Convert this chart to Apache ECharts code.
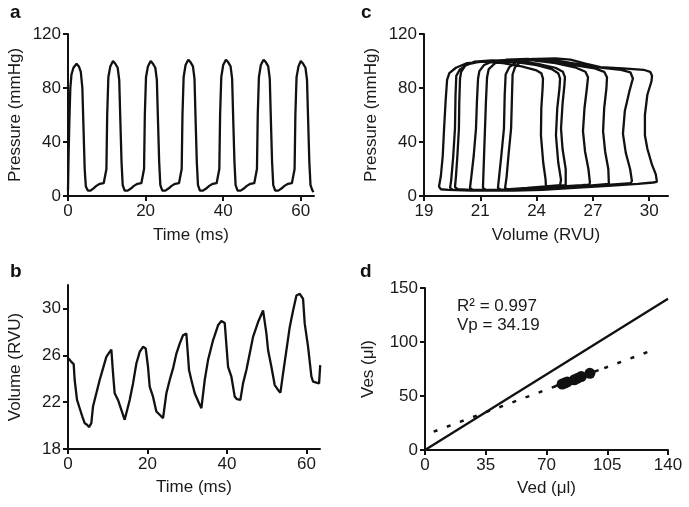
<!DOCTYPE html>
<html>
<head>
<meta charset="utf-8">
<script src="https://cdn.jsdelivr.net/npm/echarts@6/dist/echarts.min.js"></script>
<style>html,body{margin:0;padding:0;background:#fff}#c{width:689px;height:507px}</style>
</head>
<body>
<div id="c"></div>
<script>
// ---- Panel a: pressure vs time ----
const timeA = [0,0.15,0.35,0.6,0.9,1.4,2.2,2.8,3.3,3.7,4.0,4.3,4.6,5.1,5.8,6.5,7.3,8.2,9.2,9.6,
  9.9,10.1,10.4,10.9,11.6,12.2,12.8,13.2,13.5,13.8,14.1,14.6,15.4,16.2,17.0,17.9,18.9,19.4,
  19.6,19.8,20.1,20.6,21.3,21.9,22.5,22.9,23.2,23.5,23.8,24.3,25.1,25.9,26.7,27.6,28.6,29.1,
  29.3,29.5,29.8,30.3,31.0,31.6,32.2,32.6,32.9,33.2,33.5,34.0,34.8,35.6,36.4,37.3,38.3,38.8,
  39.0,39.2,39.5,40.0,40.7,41.3,41.9,42.3,42.6,42.9,43.2,43.7,44.5,45.3,46.1,47.0,48.0,48.5,
  48.7,48.9,49.2,49.7,50.4,51.0,51.6,52.0,52.3,52.6,52.9,53.4,54.2,55.0,55.8,56.7,57.7,58.2,
  58.4,58.6,58.9,59.4,60.0,60.6,61.2,61.6,61.9,62.2,62.5,63.0,63.3];
const pressureA = [4,30,55,80,90,95,98,96,92,80,50,20,7,4,4,5.5,7.5,9,9.5,10,
  20,60,88,96,100,98,95,86,55,25,8,4,4,5.5,7.5,9,9.5,10,
  20,60,88,96,100,98,95,86,55,25,8,4,4,5.5,7.5,9,9.5,10,
  20,60,88,97,101,99,96,87,55,25,8,4,4,5.5,7.5,9,9.5,10,
  20,60,88,97,101,99,96,87,55,25,8,4,4,5.5,7.5,9,9.5,10,
  20,60,88,97,101,99,96,87,55,25,8,4,4,5.5,7.5,9,9.5,10,
  20,60,88,96,100,98,95,86,55,25,8,4,3];
const xTicksA = [0,20,40,60];
const yTicksA = [0,40,80,120];

// ---- Panel b: volume vs time ----
const timeB = [0.17,0.84,1.43,1.68,2.27,2.94,3.61,4.19,4.78,5.29,5.87,6.29,7.13,7.97,8.81,9.65,10.49,10.91,
  11.33,11.74,12.58,13.42,14.26,14.68,15.52,16.36,17.20,18.04,18.88,19.55,20.13,20.55,21.39,22.23,23.07,23.91,
  24.75,25.59,26.43,27.27,28.10,28.94,29.78,30.45,31.04,31.88,32.97,33.56,34.40,35.23,36.49,37.75,38.59,39.43,
  40.27,41.11,41.95,42.53,43.37,44.04,44.88,45.72,46.56,47.82,49.08,49.50,49.92,50.34,51.17,52.01,52.85,53.44,
  54.11,54.95,55.79,56.63,57.47,58.31,59.14,59.56,60.40,61.24,61.66,62.50,63.17,63.45];
const volumeB = [25.73,25.44,25.25,23.89,22.19,21.48,20.77,20.21,20.07,19.87,20.21,21.62,22.76,23.89,24.88,25.87,26.29,26.49,
  24.45,22.76,22.19,21.34,20.49,20.35,22.19,23.60,25.30,26.29,26.72,26.58,25.02,23.32,22.47,21.20,20.92,20.63,
  22.76,23.89,24.88,26.15,27.00,27.71,27.85,24.74,23.89,22.76,21.91,21.48,23.89,25.59,27.28,28.56,28.93,28.76,
  25.02,24.17,22.47,22.25,22.19,23.60,24.74,26.15,27.57,28.84,29.83,29.97,27.85,26.43,25.02,23.46,23.04,22.81,
  24.45,26.43,28.42,29.83,31.11,31.25,30.82,28.70,26.72,24.17,23.75,23.66,23.60,25.16];
const xTicksB = [0,20,40,60];
const yTicksB = [18,22,26,30];

// ---- Panel c: pressure-volume loops ----
const loopVolume = [
  24.50,24.48,24.35,24.23,24.25,24.32,24.34,24.25,24.0,23.2,22.2,21.2,20.3,19.7,19.35,19.23,19.15,19.07,19.0,18.9,18.8,18.9,19.3,
  20.5,22.0,23.5,24.8,25.25,
  25.30,25.15,25.03,25.10,25.22,25.25,25.15,24.8,24.0,23.0,22.0,21.0,20.3,19.9,19.72,19.68,19.65,19.55,19.45,19.39,19.55,20.3,
  21.8,23.3,24.8,25.55,
  25.62,25.55,25.38,25.30,25.38,25.48,25.51,25.4,25.0,24.0,22.8,21.6,20.7,20.2,19.98,19.92,19.88,19.86,19.78,19.7,19.65,19.8,20.5,
  22.0,23.6,25.2,26.4,26.8,
  26.84,26.76,26.58,26.47,26.55,26.68,26.74,26.6,26.1,25.0,23.8,22.6,21.7,21.2,20.95,20.88,20.82,20.77,20.65,20.52,20.45,20.6,21.3,
  22.8,24.5,26.2,27.4,27.85,
  27.91,27.82,27.65,27.54,27.6,27.72,27.75,27.6,27.1,26.0,24.8,23.5,22.4,21.8,21.45,21.36,21.3,21.25,21.2,21.16,21.14,21.3,22.0,
  23.5,25.3,27.0,28.5,29.0,
  29.08,28.98,28.75,28.60,28.7,28.95,29.13,29.0,28.5,27.5,26.3,25.0,23.8,23.0,22.55,22.35,22.3,22.26,22.12,22.0,21.94,22.1,22.8,
  24.3,26.0,27.8,29.4,30.2,30.41,
  30.35,30.15,29.9,29.77,29.77,29.9,30.12,30.15,30.05,29.7,28.6,27.4,26.6,25.8,25.0,24.0,23.2,22.85,22.72,22.69,22.64,22.5,22.4,22.32,22.5,23.2,24.0];
const loopPressure = [
  5,12,25,45,65,80,87,91,93,96,98.5,99.5,98.5,95,91,86,70,50,30,15,7,5,4.5,
  4,4.5,6,7.5,8,
  12,25,45,65,80,87,91,94,97,99,100,99.5,97.5,93.5,89,75,50,28,12,6,4.5,4,
  4,5.5,7,8,
  9,20,35,50,68,82,88,92,95,98,100,100.5,99.5,96.5,92,87,70,50,30,14,6.5,5,4.5,
  4.5,5.5,7,8,8.5,
  10,20,33,48,65,80,88,92,95,98.5,100.5,101,100,97,92.5,87,70,50,30,14,6,4.5,4,
  4.5,5.5,7,8.5,9,
  10,20,33,48,65,80,88,92,94.5,97,100,101.5,101,98.5,94,88,70,50,30,14,6,4.5,4,
  4.5,6,7.5,9,9.5,
  11,20,32,46,63,78,87,91.5,93.5,95,97.5,100.5,101.5,100,95.5,90,75,50,30,14,6,4.5,4,
  4.5,6,7.5,9,10,10.5,
  16,23,35,45,60,75,85,89,92,93.5,94.5,95.5,98,101,102,101.5,100,95.5,90,75,50,30,14,6,4.5,4,4.5];
const xTicksC = [18,21,24,27,30];
const xLabelsC = ['19','21','24','27','30'];
const yTicksC = [0,40,80,120];

// ---- Panel d: Ves vs Ved ----
const vedPoints = [79,80.5,82,86,88,90,95];
const vesPoints = [61,62,63,65,66.5,68,71];
const identityX = [0,140];
const identityY = [0,140];
const fitX = [5,132];
const fitY = [17,93];
const fitSolidX = [75,100];
const fitSolidY = [59,74];
const xTicksD = [0,35,70,105,140];
const yTicksD = [0,50,100,150];
const annotD = ['R\u00b2 = 0.997','Vp = 34.19'];

const INK = '#111';
const FONT = '"Liberation Sans", Arial, sans-serif';
function pairs(xs, ys){ return xs.map((x,i)=>[x, ys[i]]); }
function axis(idx, opt){
  return Object.assign({
    type:'value', gridIndex:idx, splitLine:{show:false},
    axisLine:{show:true, onZero:false, lineStyle:{color:INK, width:2}},
    nameLocation:'middle',
    nameTextStyle:{color:'#1a1a1a', fontSize:17, fontFamily:FONT},
  }, opt);
}
function lbl(vals, extra){
  return Object.assign({color:'#1a1a1a', fontSize:17, fontFamily:FONT, margin:7, customValues:vals}, extra||{});
}
function tk(vals){ return {show:true, length:5, lineStyle:{color:INK, width:2}, customValues:vals}; }
const LW = 2.3;

const chart = echarts.init(document.getElementById('c'), null, {renderer:'canvas'});
chart.setOption({
  animation:false,
  backgroundColor:'#fff',
  grid:[
    {left:68, top:34, width:246, height:162},
    {left:68, top:285, width:252, height:164},
    {left:424, top:34, width:244, height:162},
    {left:425, top:288, width:243, height:162}
  ],
  xAxis:[
    axis(0,{min:0,max:63.4,name:'Time (ms)',nameGap:31,axisTick:tk(xTicksA),axisLabel:lbl(xTicksA)}),
    axis(1,{min:0,max:63.4,name:'Time (ms)',nameGap:30,axisTick:tk(xTicksB),axisLabel:lbl(xTicksB)}),
    axis(2,{min:18,max:31,name:'Volume (RVU)',nameGap:31,axisTick:tk(xTicksC),
      axisLabel:lbl(xTicksC,{formatter:v=>{const i=xTicksC.indexOf(v);return i>=0?xLabelsC[i]:'';}})}),
    axis(3,{min:0,max:140,interval:35,name:'Ved (\u03bcl)',nameGap:30,axisTick:tk(xTicksD),axisLabel:lbl(xTicksD)})
  ],
  yAxis:[
    axis(0,{min:0,max:120,name:'Pressure (mmHg)',nameGap:44,axisTick:tk(yTicksA),axisLabel:lbl(yTicksA)}),
    axis(1,{min:18,max:32,name:'Volume (RVU)',nameGap:44,axisTick:tk(yTicksB),axisLabel:lbl(yTicksB)}),
    axis(2,{min:0,max:120,name:'Pressure (mmHg)',nameGap:44,axisTick:tk(yTicksC),axisLabel:lbl(yTicksC)}),
    axis(3,{min:0,max:150,interval:50,name:'Ves (\u03bcl)',nameGap:48,axisTick:tk(yTicksD),axisLabel:lbl(yTicksD)})
  ],
  series:[
    {type:'line',xAxisIndex:0,yAxisIndex:0,data:pairs(timeA,pressureA),showSymbol:false,lineStyle:{color:INK,width:LW},silent:true},
    {type:'line',xAxisIndex:1,yAxisIndex:1,data:pairs(timeB,volumeB),showSymbol:false,lineStyle:{color:INK,width:LW},silent:true},
    {type:'line',xAxisIndex:2,yAxisIndex:2,data:pairs(loopVolume,loopPressure),showSymbol:false,lineStyle:{color:INK,width:LW},silent:true},
    {type:'line',xAxisIndex:3,yAxisIndex:3,data:pairs(identityX,identityY),showSymbol:false,lineStyle:{color:INK,width:LW},silent:true},
    {type:'line',xAxisIndex:3,yAxisIndex:3,data:pairs(fitX,fitY),showSymbol:false,lineStyle:{color:INK,width:2.5,type:[4,10]},silent:true},
    {type:'line',xAxisIndex:3,yAxisIndex:3,data:pairs(fitSolidX,fitSolidY),showSymbol:false,lineStyle:{color:INK,width:2.5},silent:true},
    {type:'scatter',xAxisIndex:3,yAxisIndex:3,data:pairs(vedPoints,vesPoints),symbolSize:11,itemStyle:{color:INK,opacity:1},silent:true}
  ],
  graphic:[
    {type:'text',left:10,top:3,style:{text:'a',font:'bold 19px '+FONT,fill:INK}},
    {type:'text',left:10,top:262,style:{text:'b',font:'bold 19px '+FONT,fill:INK}},
    {type:'text',left:361,top:3,style:{text:'c',font:'bold 19px '+FONT,fill:INK}},
    {type:'text',left:360,top:262,style:{text:'d',font:'bold 19px '+FONT,fill:INK}},
    {type:'text',left:457,top:298,style:{text:annotD[0],font:'17px '+FONT,fill:'#1a1a1a'}},
    {type:'text',left:457,top:317,style:{text:annotD[1],font:'17px '+FONT,fill:'#1a1a1a'}}
  ]
});
</script>
</body>
</html>
